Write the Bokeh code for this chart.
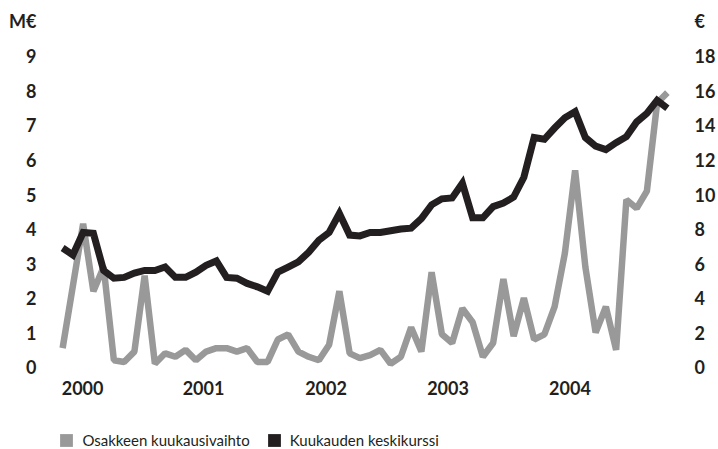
import math
from bokeh.plotting import figure
from bokeh.layouts import column
from bokeh.models import Range1d, LinearAxis, FixedTicker, Legend, LegendItem
from bokeh.embed import file_html
from bokeh.resources import INLINE

# monthly index (2000-2004)
months = list(range(60))

# Osakkeen kuukausivaihto, M€ (left axis)
turnover = [0.55, 2.35, 4.15, 2.2, 2.9, 0.2, 0.15, 0.45, 2.65, 0.1,
            0.4, 0.3, 0.5, 0.2, 0.45, 0.55, 0.55, 0.45, 0.55, 0.15,
            0.15, 0.8, 0.95, 0.45, 0.3, 0.2, 0.65, 2.2, 0.4, 0.26,
            0.35, 0.5, 0.1, 0.3, 1.15, 0.45, 2.75, 0.95, 0.7, 1.7,
            1.3, 0.3, 0.7, 2.55, 0.9, 2.0, 0.8, 0.95, 1.75, 3.3,
            5.7, 2.9, 1.0, 1.75, 0.5, 4.85, 4.6, 5.1, 7.65, 7.95]

# Kuukauden keskikurssi, € (right axis)
price = [6.9, 6.5, 7.8, 7.75, 5.6, 5.15, 5.2, 5.45, 5.6, 5.6,
         5.8, 5.2, 5.2, 5.5, 5.9, 6.15, 5.2, 5.15, 4.85, 4.65,
         4.4, 5.5, 5.8, 6.1, 6.65, 7.35, 7.8, 8.9, 7.65, 7.6,
         7.8, 7.8, 7.9, 8.0, 8.05, 8.6, 9.4, 9.75, 9.8, 10.65,
         8.65, 8.65, 9.3, 9.5, 9.85, 11.0, 13.3, 13.2, 13.85, 14.45,
         14.8, 13.3, 12.8, 12.6, 13.0, 13.35, 14.2, 14.7, 15.45, 15.0]

year_labels = ["2000", "2001", "2002", "2003", "2004"]
year_pos = [1.95, 13.75, 25.7, 37.6, 49.5]
left_ticks = list(range(0, 10))
right_ticks = list(range(0, 20, 2))
series_names = ["Osakkeen kuukausivaihto", "Kuukauden keskikurssi"]
unit_left, unit_right = "M€", "€"
# the unit captions sit one step above the highest tick of each axis
unit_left_pos = 10.03
unit_right_pos = 20.06

GRAY = "#999999"
DARK = "#231f20"
FONT = "Lato"
W = 718


def bare(fig):
    fig.outline_line_color = None
    fig.grid.visible = False
    fig.background_fill_color = "white"
    fig.border_fill_color = "white"
    return fig


# ---- main chart
p = bare(figure(width=W, height=410, output_backend="svg", toolbar_location=None,
                x_range=Range1d(-0.5, 59.5), y_range=Range1d(-0.3, 10.3),
                min_border_left=57, min_border_right=45, min_border_top=11,
                min_border_bottom=33))
p.extra_y_ranges = {"price": Range1d(-0.6, 20.6)}


def style_axis(ax, standoff):
    ax.axis_line_color = None
    ax.major_tick_line_color = None
    ax.minor_tick_line_color = None
    ax.major_tick_out = 0
    ax.major_tick_in = 0
    ax.minor_tick_out = 0
    ax.major_label_standoff = standoff
    ax.major_label_text_font = FONT
    ax.major_label_text_font_style = "bold"
    ax.major_label_text_font_size = "18px"
    ax.major_label_text_color = DARK


p.xaxis.ticker = FixedTicker(ticks=year_pos)
p.xaxis.major_label_overrides = {pos: lab for pos, lab in zip(year_pos, year_labels)}
style_axis(p.xaxis[0], 3)

p.yaxis.ticker = FixedTicker(ticks=left_ticks + [unit_left_pos])
p.yaxis.major_label_overrides = {unit_left_pos: unit_left}
style_axis(p.yaxis[0], 21)

raxis = LinearAxis(y_range_name="price",
                   ticker=FixedTicker(ticks=right_ticks + [unit_right_pos]),
                   major_label_overrides={unit_right_pos: unit_right})
style_axis(raxis, 22)
p.add_layout(raxis, "right")

p.line(months, turnover, line_width=6.5, line_color=GRAY, line_join="bevel")
p.line(months, price, y_range_name="price", line_width=7, line_color=DARK,
       line_join="miter")

# ---- footer with the legend (swatch proxies hold no visible data)
foot = bare(figure(width=W, height=39, output_backend="svg", toolbar_location=None,
                   x_range=Range1d(0, 1), y_range=Range1d(0, 1),
                   x_axis_location=None, y_axis_location=None,
                   min_border_left=57, min_border_right=45,
                   min_border_top=0, min_border_bottom=0))
nan = [math.nan]
r1 = foot.quad(left=nan, right=nan, top=nan, bottom=nan, fill_color=GRAY,
               line_color=None)
r2 = foot.quad(left=nan, right=nan, top=nan, bottom=nan, fill_color=DARK,
               line_color=None)
legend = Legend(items=[LegendItem(label=series_names[0], renderers=[r1]),
                       LegendItem(label=series_names[1], renderers=[r2])],
                orientation="horizontal", location=(1.4, 0),
                glyph_width=16, glyph_height=16, label_standoff=8, spacing=16,
                padding=0, margin=0, border_line_color=None,
                background_fill_alpha=0, label_text_font=FONT,
                label_text_font_size="15px", label_text_color=DARK,
                label_height=16)
foot.add_layout(legend)

layout = column(p, foot, spacing=0)
open("out.html", "w").write(file_html(layout, INLINE))
